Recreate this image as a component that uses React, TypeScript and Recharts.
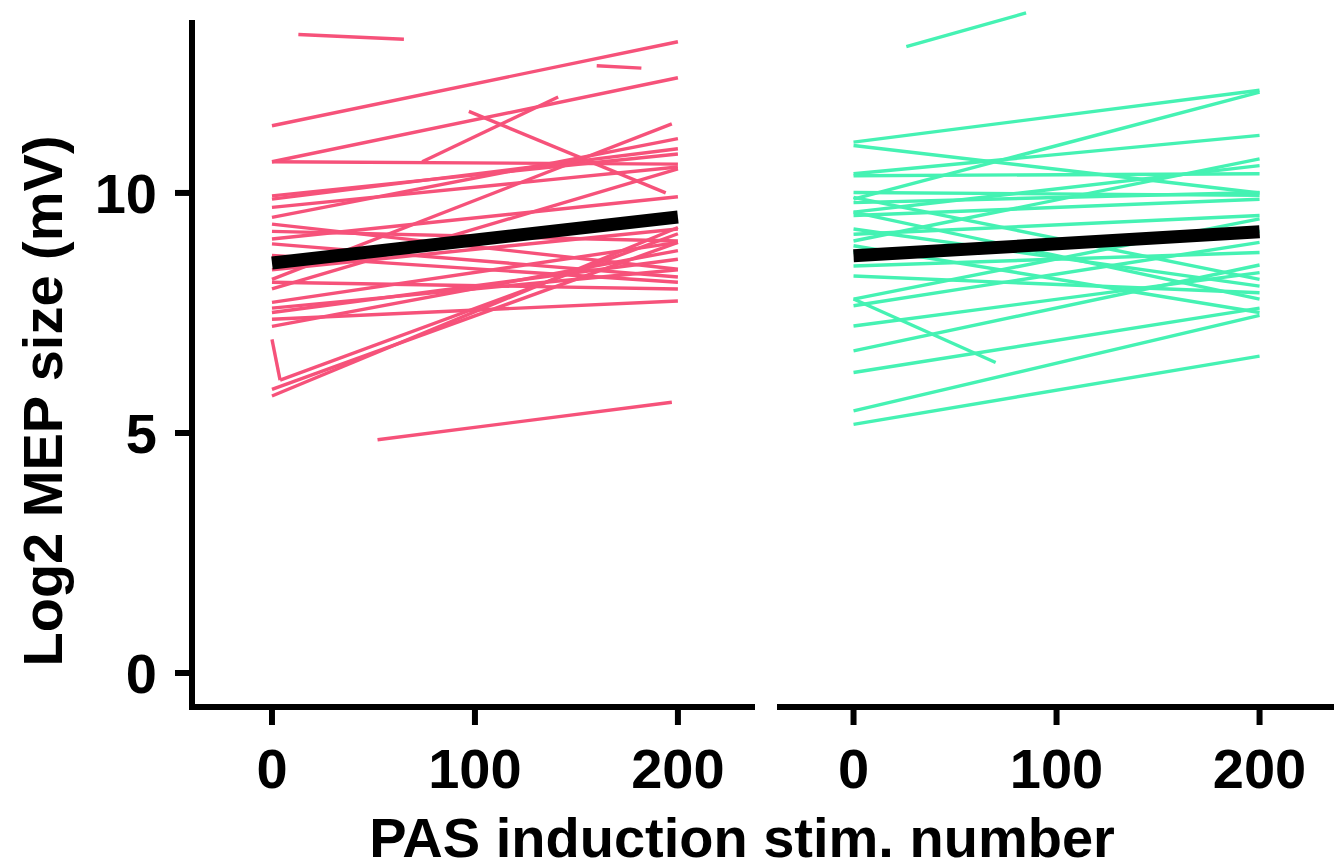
import { Line, LineChart, XAxis, YAxis } from 'recharts';

const xTicks = [0, 100, 200];
const yTicks = [0, 5, 10];

// one subject per row: [stim start, log2 MEP start, stim end, log2 MEP end]
const leftSubjects = [
  [13, 13.3, 65, 13.2],
  [160, 12.65, 182, 12.6],
  [0, 11.4, 200, 13.15],
  [0, 10.65, 200, 12.4],
  [74, 10.65, 141, 12.0],
  [97, 11.7, 194, 10.0],
  [0, 10.65, 200, 10.6],
  [0, 9.94, 200, 10.81],
  [0, 9.87, 200, 10.92],
  [0, 9.7, 200, 10.54],
  [0, 8.2, 197, 11.44],
  [0, 9.49, 200, 11.13],
  [0, 9.35, 200, 8.41],
  [0, 9.04, 200, 9.92],
  [0, 8.94, 200, 8.25],
  [0, 8.7, 200, 8.14],
  [0, 8.4, 200, 9.25],
  [0, 8.14, 200, 8.0],
  [0, 7.72, 200, 8.97],
  [0, 7.51, 200, 8.62],
  [0, 7.37, 200, 7.75],
  [0, 7.22, 200, 8.8],
  [0, 6.95, 4, 6.1],
  [4, 6.1, 200, 9.15],
  [0, 5.91, 200, 8.97],
  [0, 5.77, 200, 9.28],
  [52, 4.86, 197, 5.64],
  [0, 8.0, 200, 10.5],
  [0, 7.6, 200, 8.4],
  [0, 9.2, 200, 9.0]
];

const rightSubjects = [
  [26, 13.05, 85, 13.75],
  [0, 11.06, 200, 12.14],
  [0, 9.87, 200, 12.1],
  [0, 10.99, 200, 10.0],
  [0, 10.4, 200, 11.2],
  [0, 9.0, 200, 10.71],
  [0, 9.6, 200, 10.57],
  [0, 10.36, 200, 10.4],
  [0, 9.8, 200, 10.01],
  [0, 10.01, 200, 9.95],
  [0, 9.53, 200, 9.87],
  [0, 9.14, 200, 9.53],
  [0, 7.79, 200, 9.46],
  [0, 7.65, 200, 8.97],
  [0, 8.48, 200, 8.76],
  [0, 7.23, 200, 8.34],
  [0, 9.91, 200, 8.2],
  [0, 9.25, 200, 8.06],
  [0, 8.27, 200, 7.92],
  [0, 9.6, 200, 7.79],
  [0, 6.71, 200, 8.5],
  [0, 6.26, 200, 7.6],
  [0, 5.46, 200, 7.45],
  [0, 5.18, 200, 6.6],
  [0, 7.79, 70, 6.47],
  [0, 8.76, 200, 9.2],
  [0, 8.9, 200, 7.51]
];

const leftFit = [0, 8.54, 200, 9.5];
const rightFit = [0, 8.69, 200, 9.19];

const pink = '#f6527a';
const mint = '#45f2b3';
const font = '"Liberation Sans", Arial, sans-serif';

const toPoints = (s: number[]) => [
  { x: s[0], y: s[1] },
  { x: s[2], y: s[3] }
];

const tickStyle = { fill: '#000', fontSize: 56, fontWeight: 700, fontFamily: font };
const tickLine = { stroke: '#000', strokeWidth: 6 };

export default function App() {
  return (
    <div style={{ position: 'absolute', left: 0, top: 0, width: 1334, height: 868, overflow: 'hidden', background: '#fff' }}>
      <div style={{ position: 'absolute', left: 0, top: 0 }}>
        <LineChart width={770} height={868} margin={{ top: 23, right: 18, bottom: 0, left: 0 }}>
          <XAxis
            type="number"
            dataKey="x"
            domain={[-39.4, 236.5]}
            ticks={xTicks}
            allowDataOverflow
            height={161}
            tickSize={18}
            tickMargin={23}
            axisLine={{ stroke: '#000', strokeWidth: 6, strokeLinecap: 'square' }}
            tickLine={tickLine}
            tick={tickStyle}
          />
          <YAxis
            type="number"
            domain={[-0.708, 13.54]}
            ticks={yTicks}
            allowDataOverflow
            width={192}
            tickSize={17}
            tickMargin={18}
            axisLine={{ stroke: '#000', strokeWidth: 6, strokeLinecap: 'square' }}
            tickLine={tickLine}
            tick={tickStyle}
          />
          {leftSubjects.map((s, i) => (
            <Line key={'l' + i} data={toPoints(s)} dataKey="y" type="linear" stroke={pink} strokeWidth={3.4}
              dot={false} activeDot={false} isAnimationActive={false} />
          ))}
          <Line data={toPoints(leftFit)} dataKey="y" type="linear" stroke="#000" strokeWidth={13}
            dot={false} activeDot={false} isAnimationActive={false} />
        </LineChart>
      </div>
      <div style={{ position: 'absolute', left: 770, top: 0 }}>
        {/* no visible y axis here, so the plot may reach the top of the page */}
        <LineChart width={600} height={868} margin={{ top: 0, right: 33.5, bottom: 0, left: 7 }}>
          <XAxis
            type="number"
            dataKey="x"
            domain={[-37.7, 237.9]}
            ticks={xTicks}
            allowDataOverflow
            height={161}
            tickSize={18}
            tickMargin={23}
            axisLine={{ stroke: '#000', strokeWidth: 6 }}
            tickLine={tickLine}
            tick={tickStyle}
          />
          <YAxis type="number" domain={[-0.708, 14.02]} allowDataOverflow hide />
          {rightSubjects.map((s, i) => (
            <Line key={'r' + i} data={toPoints(s)} dataKey="y" type="linear" stroke={mint} strokeWidth={3.4}
              dot={false} activeDot={false} isAnimationActive={false} />
          ))}
          <Line data={toPoints(rightFit)} dataKey="y" type="linear" stroke="#000" strokeWidth={13}
            dot={false} activeDot={false} isAnimationActive={false} />
        </LineChart>
      </div>
      <svg width={1334} height={868} style={{ position: 'absolute', left: 0, top: 0, pointerEvents: 'none' }}>
        <text x={742} y={857} textAnchor="middle" fontFamily={font} fontWeight={700} fontSize={56} fill="#000">
          PAS induction stim. number
        </text>
        <text transform="translate(62 401) rotate(-90)" textAnchor="middle" fontFamily={font} fontWeight={700} fontSize={56} fill="#000">
          Log2 MEP size (mV)
        </text>
      </svg>
    </div>
  );
}
